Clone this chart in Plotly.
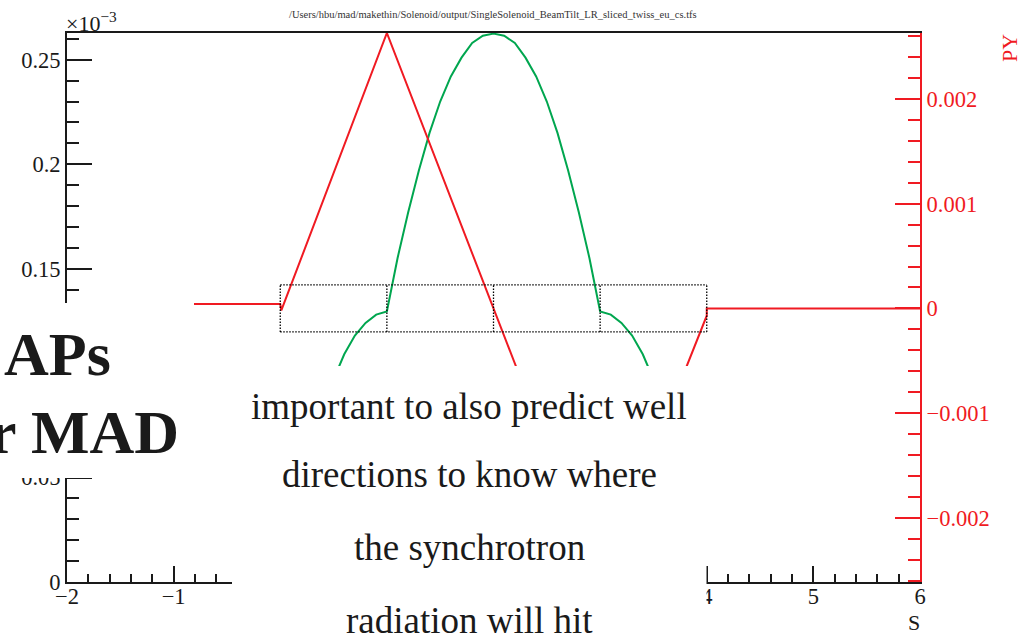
import plotly.graph_objects as go

# ---- data along the beam line (s in m) ----
# PY from the sliced twiss table
red_s = [-2.0, 0.0, 0.01, 1.0, 2.0, 3.0, 4.0, 4.0, 6.0]
red_py = [0.000042, 0.000042, -0.00002, 0.00263, 0.0, -0.00263, -0.00007, 0.0, 0.0]

# second column, in units of 1e-3
green_s = [0.0, 0.1, 0.2, 0.3, 0.4, 0.5, 0.6, 0.7, 0.8, 0.9,
           1.0, 1.1, 1.2, 1.3, 1.4, 1.5, 1.6, 1.7, 1.8, 1.9,
           2.0, 2.1, 2.2, 2.3, 2.4, 2.5, 2.6, 2.7, 2.8, 2.9,
           3.0, 3.1, 3.2, 3.3, 3.4, 3.5, 3.6, 3.7, 3.8, 3.9, 4.0]
green_v = [0.002, 0.026, 0.048, 0.067, 0.083, 0.097, 0.109, 0.118, 0.124, 0.128,
           0.1295, 0.155, 0.177, 0.197, 0.215, 0.230, 0.242, 0.251, 0.258, 0.2615,
           0.2625, 0.2615, 0.258, 0.251, 0.242, 0.230, 0.215, 0.197, 0.177, 0.155,
           0.1295, 0.128, 0.124, 0.118, 0.109, 0.097, 0.083, 0.067, 0.048, 0.026, 0.002]

# solenoid slice boundaries
element_edges = [0.0, 1.0, 2.0, 3.0, 4.0]
element_half_height = 0.000225

# axis ticks
x_tickvals = [-2, -1, 0, 1, 2, 3, 4, 5, 6]
x_ticktext = ["\u22122", "\u22121", "0", "1", "2", "3", "4", "5", "6"]
y_tickvals = [0, 0.05, 0.1, 0.15, 0.2, 0.25]
y_ticktext = ["0", "0.05", "0.1", "0.15", "0.2", "0.25"]
y2_tickvals = [-0.002, -0.001, 0.0, 0.001, 0.002]
y2_ticktext = ["\u22120.002", "\u22120.001", "0", "0.001", "0.002"]

# ---- layout geometry ----
W, H = 1020, 635
L, R, T, B = 67, 100, 33, 53
PW, PH = W - L - R, H - T - B


def px(x):
    return (x - L) / PW


def py(y):
    return (H - B - y) / PH


SERIF = "Liberation Serif, Times New Roman, serif"
RED = "#f01a22"
GREEN = "#00a64f"
INK = "#1a1a1a"

fig = go.Figure()
fig.add_trace(go.Scatter(x=green_s, y=green_v, mode="lines",
                         line=dict(color=GREEN, width=2), yaxis="y",
                         showlegend=False, hoverinfo="skip"))
fig.add_trace(go.Scatter(x=red_s, y=red_py, mode="lines",
                         line=dict(color=RED, width=2), yaxis="y2",
                         showlegend=False, hoverinfo="skip"))

shapes = []
# element boxes as one dotted outline (shared edges drawn once)
lo, hi = -element_half_height, element_half_height
first, last = element_edges[0], element_edges[-1]
path = f"M{first},{hi} L{last},{hi} M{first},{lo} L{last},{lo}"
for e in element_edges:
    path += f" M{e},{lo} L{e},{hi}"
shapes.append(dict(type="path", xref="x", yref="y2", path=path,
                   line=dict(color="black", width=1.3, dash="1.5px,1.5px"),
                   layer="above"))
# white panels with slide text
shapes.append(dict(type="rect", xref="paper", yref="paper",
                   x0=px(-20), x1=px(194), y0=py(478), y1=py(303),
                   fillcolor="white", line=dict(width=0), layer="above"))
shapes.append(dict(type="rect", xref="paper", yref="paper",
                   x0=px(232), x1=px(706.5), y0=py(650), y1=py(366),
                   fillcolor="white", line=dict(width=0), layer="above"))

ann = []


def text(x, y, s, size, color=INK, xanchor="center", yanchor="middle",
         bold=False, angle=0):
    ann.append(dict(xref="paper", yref="paper", x=px(x), y=py(y), text=s,
                    showarrow=False, xanchor=xanchor, yanchor=yanchor,
                    textangle=angle,
                    font=dict(family=SERIF, size=size, color=color,
                              weight="bold" if bold else "normal")))


text(493, 15, "/Users/hbu/mad/makethin/Solenoid/output/SingleSolenoid_BeamTilt_LR_sliced_twiss_eu_cs.tfs",
     10.5, color="#333333")
text(64, 22, "\u00d710<sup>\u22123</sup>", 22, xanchor="left")
text(1009, 48, "PY", 22, color=RED, angle=-90)
text(914, 622, "S", 22)

text(2, 354, "APs", 62, xanchor="left", bold=True)
text(181, 432, "r MAD", 62, xanchor="right", bold=True)

text(469, 406, "important to also predict well", 37)
text(469, 475, "directions to know where", 37)
text(469, 547, "the synchrotron", 37)
text(469, 620, "radiation will hit", 37)

tickfont = dict(family=SERIF, size=22.5, color=INK)

fig.update_layout(
    width=W, height=H,
    margin=dict(l=L, r=R, t=T, b=B, pad=0),
    paper_bgcolor="white", plot_bgcolor="white",
    showlegend=False,
    shapes=shapes, annotations=ann,
    xaxis=dict(range=[-2, 6], tickmode="array", tickvals=x_tickvals,
               ticktext=x_ticktext, ticks="inside", ticklen=16, tickwidth=2,
               tickcolor=INK, showline=True, linecolor=INK,
               linewidth=2, mirror=True, showgrid=False, zeroline=False,
               tickfont=tickfont,
               minor=dict(ticks="inside", ticklen=8, tickwidth=2,
                          dtick=0.2, tick0=-2, tickcolor=INK, showgrid=False)),
    yaxis=dict(range=[0, 0.2628], tickmode="array", tickvals=y_tickvals,
               ticktext=y_ticktext, ticks="inside", ticklen=25, tickwidth=2,
               tickcolor=INK, showline=True, linecolor=INK,
               linewidth=2, showgrid=False, zeroline=False, tickfont=tickfont,
               minor=dict(ticks="inside", ticklen=12, tickwidth=2,
                          dtick=0.01, tick0=0, tickcolor=INK, showgrid=False)),
    yaxis2=dict(range=[-0.002613, 0.00263], overlaying="y", side="right",
                tickmode="array", tickvals=y2_tickvals, ticktext=y2_ticktext,
                ticks="inside", ticklen=25, tickwidth=2, tickcolor=RED,
                showline=True, linecolor=RED, linewidth=2, showgrid=False,
                zeroline=False,
                tickfont=dict(family=SERIF, size=22.5, color=RED),
                minor=dict(ticks="inside", ticklen=12, tickwidth=2,
                           dtick=0.0002, tick0=0, tickcolor=RED, showgrid=False)),
)

# pull the s-axis numbers a little closer to the frame
try:
    fig.update_xaxes(ticklabelstandoff=-7)
except ValueError:
    pass

fig.write_html("out.html")
